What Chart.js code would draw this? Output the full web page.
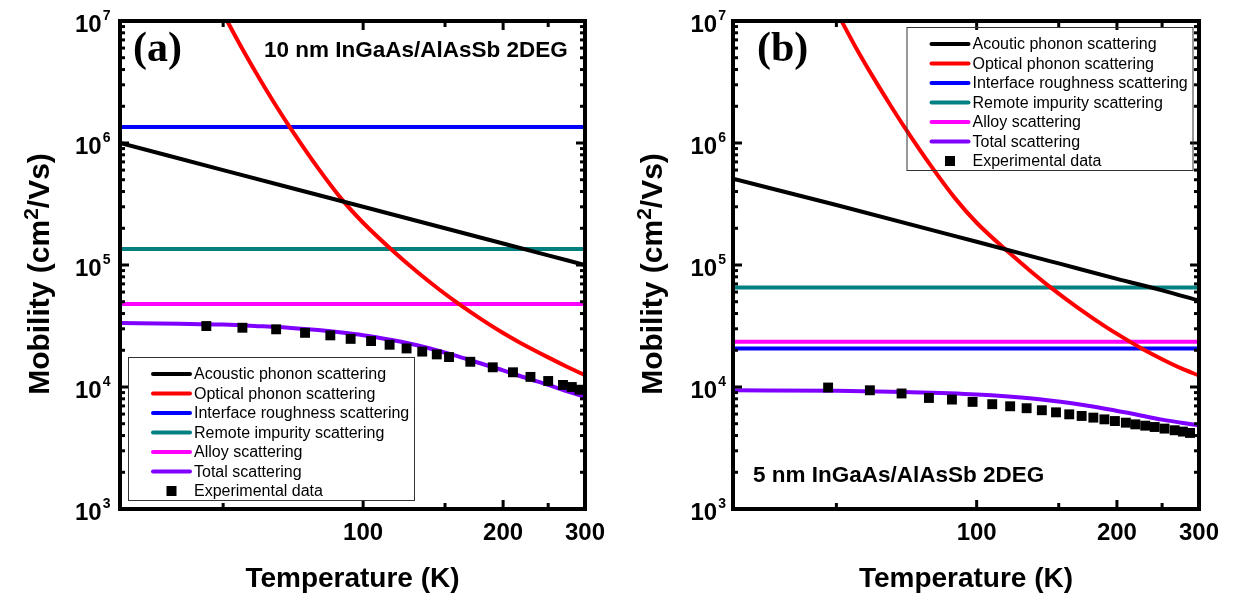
<!DOCTYPE html>
<html>
<head>
<meta charset="utf-8">
<script src="https://cdn.jsdelivr.net/npm/chart.js@4.4.1/dist/chart.umd.min.js"></script>
<style>
  html, body { margin: 0; padding: 0; background: #fff; }
  #wrap { position: relative; width: 1235px; height: 597px; }
  #wrap canvas { position: absolute; top: 0; }
</style>
</head>
<body>
<div id="wrap">
  <canvas id="chartA" width="617" height="597" style="left:0"></canvas>
  <canvas id="chartB" width="618" height="597" style="left:617px"></canvas>
</div>
<script>
// axis ticks
const xTickVals = [50, 100, 150, 200, 250];
const xMajorTicks = [100, 200];
const xLabels = [100, 200, 300];
const yDecades = [3, 4, 5, 6, 7];

// shared x for the flat lines
const flatT = [30, 300];

// ---- panel (a): 10 nm well ----
const acousticT_A = [30, 50, 100, 150, 200, 250, 300];
const acousticMu_A = [1.0e6, 6.0e5, 3.0e5, 2.0e5, 1.5e5, 1.2e5, 1.0e5];
const opticalT_A = [50, 55, 60, 65, 70, 80, 90, 100, 115, 130, 146, 160, 180, 200, 217, 250, 275, 300];
const opticalMu_A = [1.15e7, 5.89e6, 3.31e6, 2.01e6, 1.3e6, 6.22e5, 3.45e5, 2.22e5, 1.34e5, 8.93e4, 6.27e4, 4.85e4, 3.57e4, 2.77e4, 2.32e4, 1.75e4, 1.46e4, 1.25e4];
const interfaceMu_A = [1.35e6, 1.35e6];
const remoteMu_A = [1.35e5, 1.35e5];
const alloyMu_A = [4.8e4, 4.8e4];
const totalT_A = [30, 40, 50, 60, 70, 80, 90, 100, 120, 140, 160, 180, 200, 225, 250, 275, 300];
const totalMu_A = [3.35e4, 3.3e4, 3.25e4, 3.15e4, 3.05e4, 2.93e4, 2.8e4, 2.66e4, 2.36e4, 2.06e4, 1.78e4, 1.55e4, 1.37e4, 1.18e4, 1.04e4, 9.2e3, 8.3e3];
const expT_A = [46, 55, 65, 75, 85, 94, 104, 114, 124, 134, 144, 153, 170, 190, 210, 229, 250, 269, 281, 292];
const expMu_A = [3.16e4, 3.06e4, 2.97e4, 2.78e4, 2.65e4, 2.48e4, 2.38e4, 2.22e4, 2.07e4, 1.95e4, 1.85e4, 1.76e4, 1.61e4, 1.45e4, 1.32e4, 1.21e4, 1.12e4, 1.04e4, 1.0e4, 9.5e3];

// ---- panel (b): 5 nm well ----
const acousticT_B = [30, 50, 100, 150, 200, 250, 300];
const acousticMu_B = [5.1e5, 3.1e5, 1.55e5, 1.03e5, 7.7e4, 6.2e4, 5.1e4];
const opticalT_B = [50, 55, 60, 65, 70, 80, 90, 100, 118, 130, 145, 165, 190, 215, 227, 250, 275, 300];
const opticalMu_B = [1.2e7, 6.1e6, 3.45e6, 2.1e6, 1.35e6, 6.4e5, 3.5e5, 2.22e5, 1.24e5, 9.02e4, 6.43e4, 4.45e4, 3.08e4, 2.31e4, 2.05e4, 1.69e4, 1.42e4, 1.24e4];
const interfaceMu_B = [2.07e4, 2.07e4];
const remoteMu_B = [6.55e4, 6.55e4];
const alloyMu_B = [2.35e4, 2.35e4];
const totalT_B = [30, 50, 70, 100, 130, 160, 190, 220, 250, 275, 300];
const totalMu_B = [9.4e3, 9.3e3, 9.1e3, 8.7e3, 8.1e3, 7.35e3, 6.6e3, 5.95e3, 5.4e3, 5.1e3, 4.85e3];
const expT_B = [48, 59, 69, 79, 88.5, 98, 108, 118, 128, 138, 148, 158, 168, 178, 188, 198, 209, 219, 230, 241, 253, 266, 277, 287];
const expMu_B = [9.9e3, 9.4e3, 8.85e3, 8.13e3, 7.89e3, 7.55e3, 7.23e3, 6.95e3, 6.7e3, 6.45e3, 6.2e3, 5.97e3, 5.79e3, 5.61e3, 5.43e3, 5.26e3, 5.1e3, 4.94e3, 4.82e3, 4.7e3, 4.56e3, 4.42e3, 4.31e3, 4.2e3];

const SANS = '"Liberation Sans", Arial, Helvetica, sans-serif';
const SERIF = '"Liberation Serif", "Times New Roman", serif';

const toPoints = (xs, ys) => xs.map((x, i) => ({ x: x, y: ys[i] }));

function lineSet(label, xs, ys, color, order) {
    return {
        label: label,
        data: toPoints(xs, ys),
        showLine: true,
        borderColor: color,
        backgroundColor: color,
        borderWidth: 4,
        pointRadius: 0,
        cubicInterpolationMode: 'monotone',
        order: order
    };
}

function markSet(label, xs, ys) {
    return {
        label: label,
        data: toPoints(xs, ys),
        showLine: false,
        pointStyle: 'rect',
        pointRadius: 7,
        pointBorderWidth: 0,
        backgroundColor: '#000',
        borderColor: '#000',
        order: 0
    };
}

function seg(ctx, x1, y1, x2, y2) {
    ctx.beginPath();
    ctx.moveTo(x1, y1);
    ctx.lineTo(x2, y2);
    ctx.stroke();
}

// frame, inward ticks, labels, legend and notes
const decor = {
    id: 'decor',
    afterDraw(chart, args, o) {
        const ctx = chart.ctx;
        const { left, right, top, bottom } = chart.chartArea;
        const xs = chart.scales.x, ys = chart.scales.y;
        ctx.save();
        ctx.strokeStyle = '#000';
        ctx.fillStyle = '#000';

        ctx.lineWidth = 4;
        ctx.strokeRect(left, top, right - left, bottom - top);

        ctx.lineWidth = 3;
        yDecades.forEach(e => {
            for (let m = 1; m <= 9; m++) {
                const v = m * Math.pow(10, e);
                if (v > 1e7) break;
                const py = ys.getPixelForValue(v);
                const len = m === 1 ? 9 : 5;
                seg(ctx, left, py, left + len, py);
                seg(ctx, right, py, right - len, py);
            }
        });
        xTickVals.forEach(v => {
            const px = xs.getPixelForValue(v);
            const len = xMajorTicks.includes(v) ? 9 : 6;
            seg(ctx, px, bottom, px, bottom - len);
            seg(ctx, px, top, px, top + len);
        });

        // y tick labels 10^n
        yDecades.forEach(e => {
            const py = ys.getPixelForValue(Math.pow(10, e));
            ctx.font = 'bold 14px ' + SANS;
            const ew = ctx.measureText(String(e)).width;
            ctx.textAlign = 'left';
            ctx.textBaseline = 'alphabetic';
            ctx.fillText(String(e), left - o.yGap - ew, py - 1);
            ctx.font = 'bold 24px ' + SANS;
            ctx.textAlign = 'right';
            ctx.fillText('10', left - o.yGap - ew - 1, py + 10.5);
        });

        // x tick labels
        ctx.font = 'bold 24px ' + SANS;
        ctx.textAlign = 'center';
        xLabels.forEach(v => {
            ctx.fillText(String(v), xs.getPixelForValue(v), 540);
        });

        // x title
        ctx.font = 'bold 28px ' + SANS;
        ctx.fillText('Temperature (K)', (left + right) / 2, 587);

        // y title with superscript
        ctx.save();
        ctx.translate(left - 71, 274);
        ctx.rotate(-Math.PI / 2);
        const big = 'bold 30px ' + SANS, small = 'bold 21px ' + SANS;
        const p1 = 'Mobility (cm', p2 = '2', p3 = '/Vs)';
        ctx.font = big;
        const w1 = ctx.measureText(p1).width, w3 = ctx.measureText(p3).width;
        ctx.font = small;
        const w2 = ctx.measureText(p2).width;
        let tx = -(w1 + w2 + w3) / 2;
        ctx.textAlign = 'left';
        ctx.font = big; ctx.fillText(p1, tx, 0); tx += w1;
        ctx.font = small; ctx.fillText(p2, tx, -11); tx += w2;
        ctx.font = big; ctx.fillText(p3, tx, 0);
        ctx.restore();

        // panel letter and caption
        ctx.textAlign = 'left';
        ctx.font = 'bold 42px ' + SERIF;
        ctx.fillText(o.letter, o.letterX, 61);
        ctx.font = 'bold 22.5px ' + SANS;
        ctx.fillText(o.caption, o.captionX, o.captionY);

        // legend
        const b = o.legendBox;
        ctx.lineWidth = 1;
        ctx.strokeStyle = '#333';
        ctx.strokeRect(b.x + 0.5, b.y + 0.5, b.w, b.h);
        ctx.font = '16px ' + SANS;
        ctx.textBaseline = 'middle';
        chart.data.datasets.forEach((ds, i) => {
            const ry = b.y + 17 + i * 19.5;
            if (ds.showLine) {
                ctx.strokeStyle = ds.borderColor;
                ctx.lineWidth = 4;
                ctx.lineCap = 'round';
                seg(ctx, b.x + 25, ry, b.x + 62, ry);
            } else {
                ctx.fillStyle = '#000';
                ctx.fillRect(b.x + 43.5 - 5, ry - 5, 10, 10);
            }
            ctx.fillStyle = '#000';
            ctx.fillText(ds.label, b.x + 66, ry + 1);
        });
        ctx.restore();
    }
};

function makeChart(id, datasets, yWidth, rightPad, decorOpts) {
    return new Chart(document.getElementById(id).getContext('2d'), {
        type: 'scatter',
        data: { datasets: datasets },
        options: {
            responsive: false,
            animation: false,
            devicePixelRatio: 1,
            events: [],
            layout: { padding: { left: 0, right: rightPad, top: 21, bottom: 0 } },
            scales: {
                x: {
                    type: 'logarithmic',
                    min: 30,
                    max: 300,
                    grid: { display: false, drawTicks: false },
                    border: { display: false },
                    ticks: { display: false },
                    afterFit: s => { s.height = 88; }
                },
                y: {
                    type: 'logarithmic',
                    min: 1e3,
                    max: 1e7,
                    grid: { display: false, drawTicks: false },
                    border: { display: false },
                    ticks: { display: false },
                    afterFit: s => { s.width = yWidth; }
                }
            },
            plugins: {
                legend: { display: false },
                tooltip: { enabled: false },
                decor: decorOpts
            }
        },
        plugins: [decor]
    });
}

makeChart('chartA', [
    lineSet('Acoustic phonon scattering', acousticT_A, acousticMu_A, '#000000', 2),
    lineSet('Optical phonon scattering', opticalT_A, opticalMu_A, '#ff0000', 2),
    lineSet('Interface roughness scattering', flatT, interfaceMu_A, '#0000ff', 2),
    lineSet('Remote impurity scattering', flatT, remoteMu_A, '#008080', 2),
    lineSet('Alloy scattering', flatT, alloyMu_A, '#ff00ff', 2),
    lineSet('Total scattering', totalT_A, totalMu_A, '#7f00ff', 1),
    markSet('Experimental data', expT_A, expMu_A)
], 120, 32, {
    yGap: 9.5,
    letter: '(a)', letterX: 133,
    caption: '10 nm InGaAs/AlAsSb 2DEG', captionX: 264, captionY: 57,
    legendBox: { x: 128, y: 357, w: 286, h: 143 }
});

makeChart('chartB', [
    lineSet('Acoutic phonon scattering', acousticT_B, acousticMu_B, '#000000', 2),
    lineSet('Optical phonon scattering', opticalT_B, opticalMu_B, '#ff0000', 2),
    lineSet('Interface roughness scattering', flatT, interfaceMu_B, '#0000ff', 2),
    lineSet('Remote impurity scattering', flatT, remoteMu_B, '#008080', 2),
    lineSet('Alloy scattering', flatT, alloyMu_B, '#ff00ff', 2),
    lineSet('Total scattering', totalT_B, totalMu_B, '#7f00ff', 1),
    markSet('Experimental data', expT_B, expMu_B)
], 116, 36, {
    yGap: 7,
    letter: '(b)', letterX: 140,
    caption: '5 nm InGaAs/AlAsSb 2DEG', captionX: 136, captionY: 482,
    legendBox: { x: 289.5, y: 27, w: 286, h: 143 }
});
</script>
</body>
</html>
